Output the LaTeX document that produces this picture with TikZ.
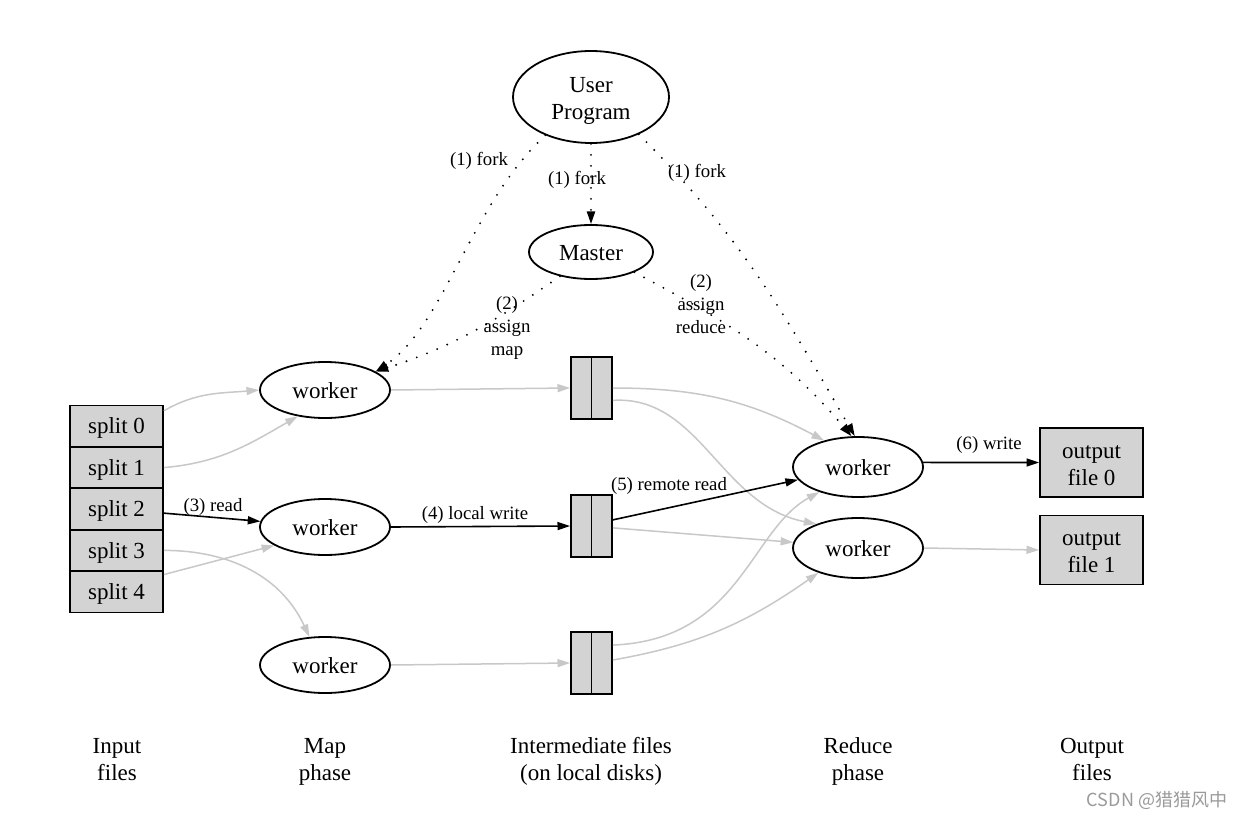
\documentclass[tikz,border=0pt]{standalone}
\usepackage{fontspec}
\setmainfont{Liberation Serif}
\newfontfamily\cjkfont{Noto Sans CJK SC}
\usetikzlibrary{arrows.meta,shapes.geometric}
\definecolor{boxgray}{HTML}{D3D3D3}
\definecolor{edgegray}{HTML}{C8C8C8}
\definecolor{markgray}{HTML}{9A9A9A}
\newcommand\tstrut{\rule[-1.8pt]{0pt}{12pt}}
\newcommand\topstrut{\rule{0pt}{12pt}}
\newcommand\botstrut{\rule[-2.6pt]{0pt}{2.6pt}}
\begin{document}
\begin{tikzpicture}[x=0.5pt,y=0.5pt,
  every node/.style={font=\fontsize{11.5}{13.5}\selectfont},
  ell/.style={ellipse,draw,line width=0.9pt,inner sep=0pt},
  filebox/.style={rectangle,draw,line width=0.9pt,fill=boxgray,inner sep=0pt},
  lab/.style={font=\fontsize{9.4}{11.6}\selectfont,align=center,inner sep=0pt,yshift=-1.5pt},
  big/.style={align=center,inner sep=0pt},
  arr/.style={-{Triangle[length=6.3pt,width=4pt]}},
  blk/.style={arr,line width=0.8pt,black},
  gry/.style={arr,line width=0.75pt,edgegray},
  dotline/.style={arr,line width=1.05pt,dash pattern=on 0pt off 5.5pt,line cap=round},
]
\fill[white] (0,0) rectangle (1246,-818);
\useasboundingbox (0,0) rectangle (1246,-818);

% nodes
\node[ell,big,minimum width=78pt,minimum height=46pt] (user) at (591,-97) {\topstrut User\\Program\botstrut};
\node[ell,minimum width=62pt,minimum height=27pt] (master) at (591,-252) {\tstrut Master};

\node[ell,minimum width=65pt,minimum height=28pt] (m1) at (325,-390) {\tstrut worker};
\node[ell,minimum width=65pt,minimum height=28pt] (m2) at (325,-527) {\tstrut worker};
\node[ell,minimum width=65pt,minimum height=28pt] (m3) at (325,-665) {\tstrut worker};

\node[ell,minimum width=65pt,minimum height=30pt] (r1) at (858,-467) {\tstrut worker};
\node[ell,minimum width=65pt,minimum height=30pt] (r2) at (858,-548) {\tstrut worker};

\node[filebox,minimum width=46.5pt,minimum height=20.7pt] (s0) at (116.5,-426.2) {\tstrut split 0};
\node[filebox,minimum width=46.5pt,minimum height=20.7pt] (s1) at (116.5,-467.6) {\tstrut split 1};
\node[filebox,minimum width=46.5pt,minimum height=20.7pt] (s2) at (116.5,-509) {\tstrut split 2};
\node[filebox,minimum width=46.5pt,minimum height=20.7pt] (s3) at (116.5,-550.4) {\tstrut split 3};
\node[filebox,minimum width=46.5pt,minimum height=20.7pt] (s4) at (116.5,-591.8) {\tstrut split 4};

\node[filebox,minimum width=20.5pt,minimum height=31pt] (f1) at (591.5,-388) {};
\node[filebox,minimum width=20.5pt,minimum height=31pt] (f2) at (591.5,-526) {};
\node[filebox,minimum width=20.5pt,minimum height=31pt] (f3) at (591.5,-663) {};
\foreach \f in {f1,f2,f3} \draw[line width=0.9pt] (\f.north) -- (\f.south);

\node[filebox,big,minimum width=51.5pt,minimum height=34.5pt] (o0) at (1091.5,-462.5) {\topstrut output\\file 0\botstrut};
\node[filebox,big,minimum width=51.5pt,minimum height=34.5pt] (o1) at (1091.5,-550) {\topstrut output\\file 1\botstrut};

% bottom captions
\node[big] (c1) at (117,-758) {\topstrut Input\\files\botstrut};
\node[big] (c2) at (325,-758) {\topstrut Map\\phase\botstrut};
\node[big] (c3) at (591,-758) {\topstrut Intermediate files\\(on local disks)\botstrut};
\node[big] (c4) at (858,-758) {\topstrut Reduce\\phase\botstrut};
\node[big] (c5) at (1092,-758) {\topstrut Output\\files\botstrut};

\node[inner sep=0pt,text=markgray,font=\cjkfont\fontsize{9}{10}\selectfont] (wm) at (1157,-800) {CSDN @猎猎风中};

% gray connectors
\draw[gry] (s0.18) to[out=30,in=185] (m1.west);
\draw[gry] (s1.east) to[out=5,in=-150] (m1.-136);
\draw[gry] (s3.east) to[out=0,in=115] (m3.119);
\draw[gry] (s4.20) -- (m2.-160);
\draw[gry] (m1.east) -- (f1.west);
\draw[gry] (m3.east) -- (f3.west);
\draw[gry] (f1.east) to[out=0,in=152] (r1.142);
\draw[gry] (f1.-30) .. controls (700,-395) and (720,-505) .. (r2.150);
\draw[gry] (f2.-5) -- (r2.175);
\draw[gry] (f3.40) .. controls (740,-640) and (750,-530) .. (r1.-147);
\draw[gry] (f3.8) to[out=10,in=-145] (r2.-148);
\draw[gry] (r2.east) -- (o1.west);

% black connectors
\draw[blk] (s2.-5) -- (m2.175);
\draw[blk] (m2.east) -- (f2.west);
\draw[blk] (f2.16) -- (r1.-168);
\draw[blk] (r1.4) -- (o0.west);

% dotted connectors
\draw[dotline] (user.south) -- (master.north);
\draw[dotline] (user.-140) .. controls (470,-205) and (445,-325) .. (m1.20);
\draw[dotline] (master.-142) to[out=-145,in=18] (m1.20);
\draw[dotline] (user.-38) to[out=-45,in=120] (r1.96);
\draw[dotline] (master.-25) to[out=-28,in=130] (r1.102);

% labels
\node[lab] (l1) at (479,-158) {(1) fork};
\node[lab] (l2) at (577,-177) {(1) fork};
\node[lab] (l3) at (697,-170) {(1) fork};
\node[lab] (l4) at (507,-325) {(2)\\assign\\map};
\node[lab] (l5) at (701,-301) {(2)\\assign\\reduce};
\node[lab] (l6) at (213,-504) {(3) read};
\node[lab] (l7) at (475,-512) {(4) local write};
\node[lab] (l8) at (669,-483) {(5) remote read};
\node[lab] (l9) at (989,-442) {(6) write};
\end{tikzpicture}
\end{document}
